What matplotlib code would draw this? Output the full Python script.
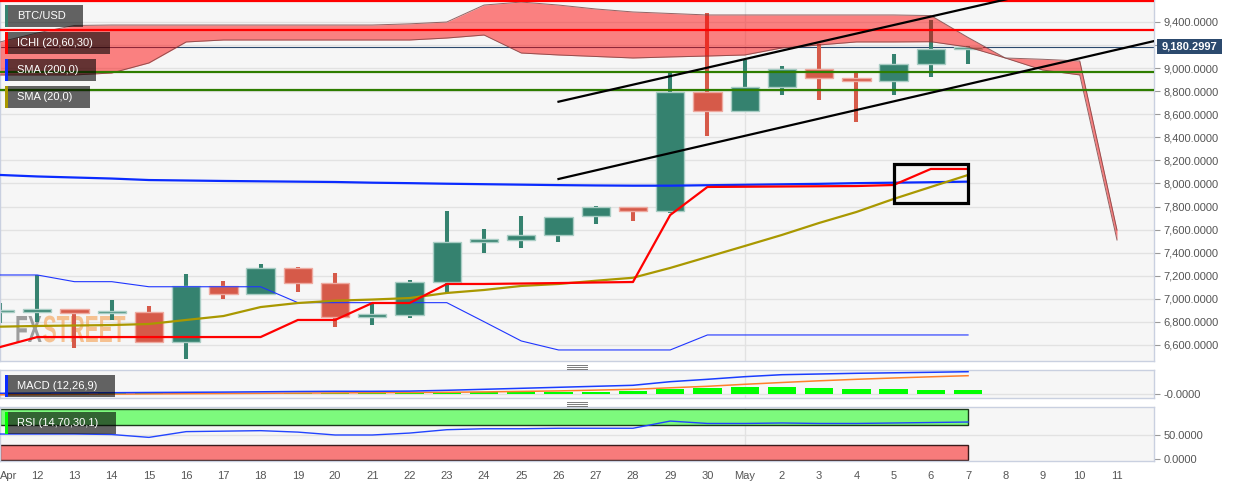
import numpy as np
import matplotlib
matplotlib.use("Agg")
import matplotlib.pyplot as plt
from matplotlib.patches import Rectangle, PathPatch
from matplotlib.lines import Line2D
from matplotlib.textpath import TextPath
from matplotlib.font_manager import FontProperties
from matplotlib.transforms import Affine2D
from matplotlib.ticker import FuncFormatter, FixedLocator

plt.rcParams['font.family'] = ['Liberation Sans', 'DejaVu Sans']

W, H = 1244, 487

# --- data (daily, Apr 11 .. May 7 for candles, to May 11 for the cloud) ---
day_labels = ['Apr', '12', '13', '14', '15', '16', '17', '18', '19', '20', '21', '22',
              '23', '24', '25', '26', '27', '28', '29', '30', 'May', '2', '3', '4',
              '5', '6', '7', '8', '9', '10', '11']

opens = [6882, 6886, 6912, 6877, 6886, 6628, 7114, 7039, 7265, 7135, 6845, 6860, 7143, 7495,
         7508, 7553, 7715, 7794, 7765, 8796, 8631, 8834, 8990, 8917, 8891, 9036, 9163]
highs = [6963, 7207, 6915, 6990, 6938, 7215, 7155, 7302, 7275, 7224, 6961, 7163, 7762, 7606,
         7718, 7712, 7808, 7800, 8969, 9475, 9071, 9019, 9207, 8960, 9123, 9417, 9190]
lows = [6791, 6800, 6574, 6820, 6617, 6478, 7001, 7031, 7062, 6759, 6773, 6831, 7048, 7395,
        7443, 7495, 7646, 7678, 7740, 8412, 8622, 8767, 8724, 8536, 8767, 8926, 9036]
closes = [6892, 6912, 6877, 6886, 6628, 7114, 7039, 7265, 7135, 6845, 6855, 7143, 7495, 7508,
          7553, 7707, 7794, 7765, 8796, 8631, 8834, 8990, 8917, 8891, 9036, 9163, 9180]

sma200 = [8074, 8061, 8052, 8043, 8030, 8026, 8022, 8019, 8016, 8013, 8007, 8003, 7998, 7994,
          7990, 7986, 7983, 7981, 7981, 7985, 7989, 7993, 7997, 8003, 8007, 8011, 8016]
sma20 = [6759, 6765, 6769, 6773, 6782, 6817, 6851, 6929, 6964, 6984, 6994, 7007, 7051, 7077,
         7112, 7129, 7157, 7183, 7268, 7363, 7458, 7554, 7658, 7753, 7866, 7970, 8074]
tenkan = [6582, 6669, 6669, 6669, 6669, 6669, 6669, 6669, 6817, 6817, 6964, 6964, 7129, 7129,
          7133, 7137, 7142, 7146, 7727, 7970, 7972, 7974, 7976, 7978, 7987, 8126, 8126]
kijun = [7207, 7207, 7149, 7149, 7105, 7105, 7105, 7105, 6967, 6967, 6967, 6967, 6967, 6802,
         6635, 6557, 6557, 6557, 6557, 6687, 6687, 6687, 6687, 6687, 6687, 6687, 6687]
cloud_upper = [9227, 9305, 9370, 9374, 9374, 9374, 9374, 9374, 9374, 9374, 9374, 9384, 9400,
               9547, 9573, 9547, 9513, 9487, 9474, 9461, 9461, 9461, 9461, 9461, 9461, 9456,
               9266, 9088, 9077, 9062, 7597]
cloud_lower = [8941, 8941, 8941, 8958, 9045, 9227, 9244, 9244, 9244, 9244, 9244, 9244, 9261,
               9287, 9131, 9114, 9101, 9088, 9097, 9105, 9114, 9175, 9201, 9227, 9227, 9229,
               9183, 9088, 8984, 8941, 7510]

red_levels = [9585, 9333]
green_levels = [8969, 8813]
last_price = 9180.2997
upper_trend = ([15, 31], [8709, 9890])
lower_trend = ([15, 31], [8039, 9235])
box_days = (24, 26)
box_prices = (7831, 8169)

macd = [20, 24, 28, 32, 36, 40, 44, 50, 56, 60, 60, 64, 80, 100, 120, 140, 160, 180, 252, 300,
        352, 392, 406, 420, 430, 440, 452]
signal = [-10, -6, 0, 4, 8, 12, 16, 20, 24, 28, 32, 36, 40, 48, 58, 68, 84, 100, 130, 160, 200,
          236, 270, 300, 326, 350, 372]
hist = [30, 30, 28, 28, 28, 28, 28, 30, 32, 32, 32, 36, 40, 44, 50, 52, 56, 66, 106, 132, 140,
        146, 132, 112, 106, 92, 80]
rsi = [52, 52, 52, 51, 45, 57, 58, 59, 56, 50, 50, 54, 61, 63, 63, 64, 64, 64, 79, 74, 74, 75,
       74, 74, 75, 76, 77]

# --- layout ---
fig = plt.figure(figsize=(W / 100, H / 100), dpi=100)
fig.patch.set_facecolor('white')


def panel(top, bottom):
    return [0, 1 - bottom / H, 1154 / W, (bottom - top) / H]


ax = fig.add_axes(panel(0, 361))
axm = fig.add_axes(panel(370, 398))
axr = fig.add_axes(panel(407, 461))

frame_col = '#c9d0e0'
for a in (ax, axm, axr):
    a.set_facecolor('#f6f6f6')
    a.set_xlim(0.005, 30.994)
    for s in a.spines.values():
        s.set_color(frame_col)
        s.set_linewidth(1)
    a.yaxis.tick_right()
    a.tick_params(axis='y', right=True, left=False, labelright=True, labelleft=False,
                  length=4, color='#9a9a9a', labelcolor='#555555', labelsize=8, pad=3)
    a.set_xticks(range(len(day_labels)))
    a.tick_params(axis='x', length=0, labelbottom=False)
    a.axvline(20, color='#e2e2e2', lw=1, zorder=0)

fmt = FuncFormatter(lambda v, p: f"{v:,.4f}")

# main panel
ax.set_ylim(6461.3, 9590.7)
ax.yaxis.set_major_locator(FixedLocator(np.arange(6600, 9401, 200)))
ax.yaxis.set_major_formatter(fmt)
for v in np.arange(6600, 9401, 200):
    ax.axhline(v, color='#e2e2e2', lw=1, zorder=0)

days = np.arange(len(opens))
o = np.array(opens)
c = np.array(closes)
up = c >= o
body_col = np.where(up, '#35826f', '#d65a49')
edge_col = np.where(up, '#a9cdc4', '#eeaaa0')
ax.vlines(days, lows, highs, colors=body_col, lw=2.9, zorder=2)
bottoms = np.minimum(o, c)
heights = np.maximum(np.abs(c - o), 22)
ax.bar(days, heights, bottom=bottoms, width=0.76, color=body_col, edgecolor=edge_col,
       lw=1, zorder=2.1)

# watermark
wm_prop = FontProperties(family='Liberation Sans', weight='bold')
p_fx = TextPath((0, 0), 'FX', size=21, prop=wm_prop)
p_st = TextPath((0, 0), 'STREET', size=21, prop=wm_prop)
fx_w = p_fx.get_extents().x1
base = H - 342
ax.add_patch(PathPatch(p_fx, transform=Affine2D().scale(1, 1.8).translate(15, base),
                       fc='#8e8e8e', ec='none', alpha=0.85, zorder=0.5))
ax.add_patch(PathPatch(p_st, transform=Affine2D().scale(1, 1.8).translate(15 + fx_w + 1, base),
                       fc='#f5b070', ec='none', alpha=0.75, zorder=0.5))

ax.axhline(last_price, color='#2c4a6e', lw=0.8, zorder=1.5)

ax.plot(days, sma200, color='#0a2bff', lw=1.6, zorder=3)
ax.plot(days, kijun, color='#1f35ff', lw=0.8, zorder=3)
ax.plot(days, sma20, color='#a99800', lw=1.6, zorder=3)
ax.plot(days, tenkan, color='#ff0000', lw=1.6, zorder=3.1)

cd = np.arange(len(cloud_upper))
ax.fill_between(cd, cloud_upper, cloud_lower, color='#ff0000', alpha=0.48, lw=0, zorder=4)
ax.plot(cd, cloud_upper, color='#7a4040', lw=0.7, alpha=0.8, zorder=4)
ax.plot(cd, cloud_lower, color='#7a4040', lw=0.7, alpha=0.8, zorder=4)

for v in red_levels:
    ax.axhline(v, color='#ff0000', lw=1.6, zorder=5)
for v in green_levels:
    ax.axhline(v, color='#2e7d00', lw=1.6, zorder=5)

ax.plot(*upper_trend, color='black', lw=1.6, zorder=6)
ax.plot(*lower_trend, color='black', lw=1.6, zorder=6)
ax.add_patch(Rectangle((box_days[0], box_prices[0]), box_days[1] - box_days[0],
                       box_prices[1] - box_prices[0], fill=False, ec='black', lw=2.3, zorder=6))

# MACD panel
axm.set_ylim(-74, 486)
axm.yaxis.set_major_locator(FixedLocator([0]))
axm.yaxis.set_major_formatter(FuncFormatter(lambda v, p: '-0.0000'))
axm.axhline(0, color='#e2e2e2', lw=1, zorder=0)
axm.bar(days, hist, width=0.76, color='#00ff00', zorder=2)
axm.plot(days, signal, color='#ff7f2a', lw=1.1, zorder=3)
axm.plot(days, macd, color='#1a3cff', lw=1.1, zorder=3)

# RSI panel
axr.set_ylim(-4.2, 108.3)
axr.yaxis.set_major_locator(FixedLocator([0, 50]))
axr.yaxis.set_major_formatter(fmt)
axr.axhline(50, color='#e2e2e2', lw=1, zorder=0)
axr.add_patch(Rectangle((0, 70), 26, 33.5, fc='#7dfa7d', ec='#1c3a1c', lw=1, zorder=1))
axr.add_patch(Rectangle((0, -2), 26, 32, fc='#f77b7b', ec='#3a1a1a', lw=1, zorder=1))
axr.plot(days, rsi, color='#2244ff', lw=1, zorder=3)
axr.set_xticklabels(day_labels)
axr.tick_params(axis='x', labelbottom=True, labelsize=8, labelcolor='#555555', pad=7)
axr.get_xticklabels()[0].set_ha('left')


# --- overlays in pixel space ---
def fx(x):
    return x / W


def fy(y):
    return 1 - y / H


def tag(x0, y0, x1, y1, stripe, text):
    fig.add_artist(Rectangle((fx(x0), fy(y1)), fx(x1 - x0), (y1 - y0) / H,
                             transform=fig.transFigure, fc='black', alpha=0.6, lw=0, zorder=10))
    fig.add_artist(Rectangle((fx(x0), fy(y1)), fx(2.5), (y1 - y0) / H,
                             transform=fig.transFigure, fc=stripe, lw=0, zorder=11))
    fig.text(fx(x0 + 12), fy((y0 + y1) / 2), text, color='white', fontsize=8,
             va='center', ha='left', zorder=12)


tag(5, 5, 83, 27, '#35826f', 'BTC/USD')
tag(5, 32, 110, 54, '#ff0000', 'ICHI (20,60,30)')
tag(5, 59, 96, 81, '#0a2bff', 'SMA (200,0)')
tag(5, 86, 90, 108, '#a99800', 'SMA (20,0)')
tag(5, 375, 115, 397, '#0a2bff', 'MACD (12,26,9)')
tag(5, 412, 116, 434, '#00ff00', 'RSI (14,70,30,1)')

# last price marker
fig.add_artist(Rectangle((fx(1157), fy(54)), fx(65), 15 / H, transform=fig.transFigure,
                         fc='#2c4a6e', lw=0, zorder=10))
fig.text(fx(1189.5), fy(46.5), f"{last_price:,.4f}", color='white', fontsize=8,
         fontweight='bold', ha='center', va='center', zorder=11)

# panel grips
for gy in (364.5, 366.5, 368.5, 401.5, 403.5, 405.5):
    fig.add_artist(Line2D([fx(567), fx(587)], [fy(gy), fy(gy)], color='#7a7a7a', lw=0.7,
                          transform=fig.transFigure, zorder=10))

fig.savefig('out.png', dpi=100)
